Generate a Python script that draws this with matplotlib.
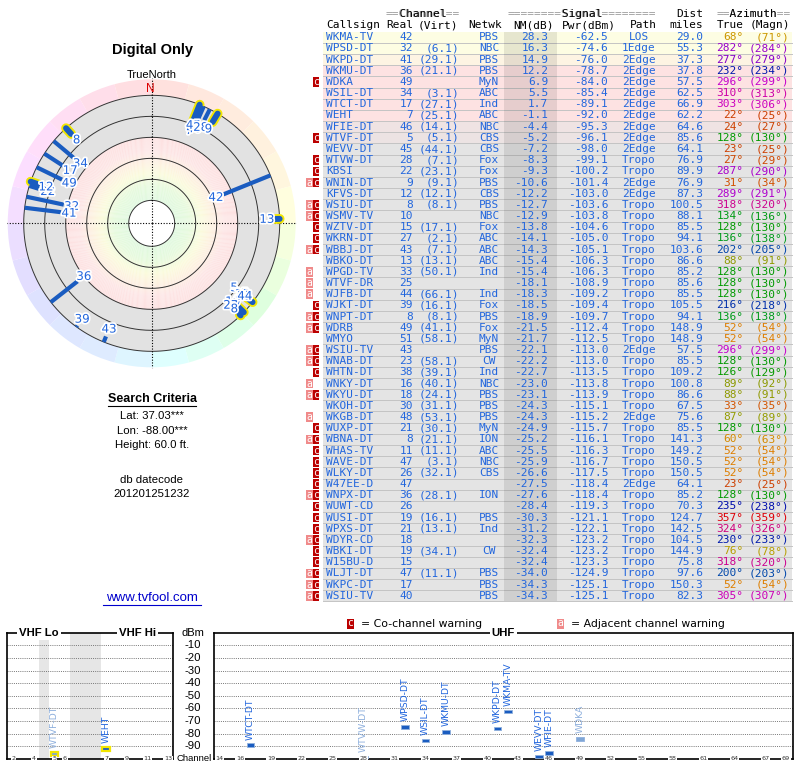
import colorsys
import numpy as np
import matplotlib.pyplot as plt
import matplotlib.patheffects as pe
import matplotlib.transforms as mtrans
from matplotlib.patches import Rectangle

# ---- station data ----
callsigns = ['WKMA-TV', 'WPSD-DT', 'WKPD-DT', 'WKMU-DT', 'WDKA', 'WSIL-DT', 'WTCT-DT', 'WEHT',
             'WFIE-DT', 'WTVF-DT', 'WEVV-DT', 'WTVW-DT', 'KBSI', 'WNIN-DT', 'KFVS-DT', 'WSIU-DT',
             'WSMV-TV', 'WZTV-DT', 'WKRN-DT', 'WBBJ-DT', 'WBKO-DT', 'WPGD-TV', 'WTVF-DR', 'WJFB-DT',
             'WJKT-DT', 'WNPT-DT', 'WDRB', 'WMYO', 'WSIU-TV', 'WNAB-DT', 'WHTN-DT', 'WNKY-DT',
             'WKYU-DT', 'WKOH-DT', 'WKGB-DT', 'WUXP-DT', 'WBNA-DT', 'WHAS-TV', 'WAVE-DT', 'WLKY-DT',
             'W47EE-D', 'WNPX-DT', 'WUWT-CD', 'WUSI-DT', 'WPXS-DT', 'WDYR-CD', 'WBKI-DT', 'W15BU-D',
             'WLJT-DT', 'WKPC-DT', 'WSIU-TV']
real_ch = [42, 32, 41, 36, 49, 34, 17, 7, 46, 5, 45, 28, 22, 9, 12, 8, 10, 15, 27, 43, 13, 33, 25, 44,
           39, 8, 49, 51, 43, 23, 38, 16, 18, 30, 48, 21, 8, 11, 47, 26, 47, 36, 26, 19, 21, 18, 19, 15,
           47, 17, 40]
virt_ch = ['', '6.1', '29.1', '21.1', '', '3.1', '27.1', '25.1', '14.1', '5.1', '44.1', '7.1', '23.1',
           '9.1', '12.1', '8.1', '', '17.1', '2.1', '7.1', '13.1', '50.1', '', '66.1', '16.1', '8.1',
           '41.1', '58.1', '', '58.1', '39.1', '40.1', '24.1', '31.1', '53.1', '30.1', '21.1', '11.1',
           '3.1', '32.1', '', '28.1', '', '16.1', '13.1', '', '34.1', '', '11.1', '', '']
network = ['PBS', 'NBC', 'PBS', 'PBS', 'MyN', 'ABC', 'Ind', 'ABC', 'NBC', 'CBS', 'CBS', 'Fox', 'Fox',
           'PBS', 'CBS', 'PBS', 'NBC', 'Fox', 'ABC', 'ABC', 'ABC', 'Ind', '', 'Ind', 'Fox', 'PBS', 'Fox',
           'MyN', 'PBS', 'CW', 'Ind', 'NBC', 'PBS', 'PBS', 'PBS', 'MyN', 'ION', 'ABC', 'NBC', 'CBS', '',
           'ION', '', 'PBS', 'Ind', '', 'CW', '', 'PBS', 'PBS', 'PBS']
nm_db = [28.3, 16.3, 14.9, 12.2, 6.9, 5.5, 1.7, -1.1, -4.4, -5.2, -7.2, -8.3, -9.3, -10.6, -12.2, -12.7,
         -12.9, -13.8, -14.1, -14.3, -15.4, -15.4, -18.1, -18.3, -18.5, -18.9, -21.5, -21.7, -22.1,
         -22.2, -22.7, -23.0, -23.1, -24.3, -24.3, -24.9, -25.2, -25.5, -25.9, -26.6, -27.5, -27.6,
         -28.4, -30.3, -31.2, -32.3, -32.4, -32.4, -34.0, -34.3, -34.3]
pwr_dbm = [-62.5, -74.6, -76.0, -78.7, -84.0, -85.4, -89.1, -92.0, -95.3, -96.1, -98.0, -99.1, -100.2,
           -101.4, -103.0, -103.6, -103.8, -104.6, -105.0, -105.1, -106.3, -106.3, -108.9, -109.2,
           -109.4, -109.7, -112.4, -112.5, -113.0, -113.0, -113.5, -113.8, -113.9, -115.1, -115.2,
           -115.7, -116.1, -116.3, -116.7, -117.5, -118.4, -118.4, -119.3, -121.1, -122.1, -123.2,
           -123.2, -123.3, -124.9, -125.1, -125.1]
path = ['LOS', '1Edge', '2Edge', '2Edge', '2Edge', '2Edge', '2Edge', '2Edge', '2Edge', '2Edge', '2Edge',
        'Tropo', 'Tropo', '2Edge', '2Edge', 'Tropo', 'Tropo', 'Tropo', 'Tropo', 'Tropo', 'Tropo', 'Tropo',
        'Tropo', 'Tropo', 'Tropo', 'Tropo', 'Tropo', 'Tropo', '2Edge', 'Tropo', 'Tropo', 'Tropo', 'Tropo',
        'Tropo', '2Edge', 'Tropo', 'Tropo', 'Tropo', 'Tropo', 'Tropo', '2Edge', 'Tropo', 'Tropo', 'Tropo',
        'Tropo', 'Tropo', 'Tropo', 'Tropo', 'Tropo', 'Tropo', 'Tropo']
dist_mi = [29.0, 55.3, 37.3, 37.8, 57.5, 62.5, 66.9, 62.2, 64.6, 85.6, 64.1, 76.9, 89.9, 76.9, 87.3,
           100.5, 88.1, 85.5, 94.1, 103.6, 86.6, 85.2, 85.6, 85.5, 105.5, 94.1, 148.9, 148.9, 57.5, 85.5,
           109.2, 100.8, 86.6, 67.5, 75.6, 85.5, 141.3, 149.2, 150.5, 150.5, 64.1, 85.2, 70.3, 124.7,
           142.5, 104.5, 144.9, 75.8, 97.6, 150.3, 82.3]
az_true = [68, 282, 277, 232, 296, 310, 303, 22, 24, 128, 23, 27, 287, 31, 289, 318, 134, 128, 136, 202,
           88, 128, 128, 128, 216, 136, 52, 52, 296, 128, 126, 89, 88, 33, 87, 128, 60, 52, 52, 52, 23,
           128, 235, 357, 324, 230, 76, 318, 200, 52, 305]
az_magn = [71, 284, 279, 234, 299, 313, 306, 25, 27, 130, 25, 29, 290, 34, 291, 320, 136, 130, 138, 205,
           91, 130, 130, 130, 218, 138, 54, 54, 299, 130, 129, 92, 91, 35, 89, 130, 63, 54, 54, 54, 25,
           130, 238, 359, 326, 233, 78, 320, 203, 54, 307]
warnings = ['', '', '', '', 'c', '', '', '', '', 'c', '', 'c', 'c', 'ac', '', 'ac', 'ac', 'c', 'c', 'ac',
            '', 'a', 'a', 'a', 'c', 'ac', 'ac', '', 'ac', 'ac', 'c', 'a', 'ac', '', 'a', 'c', 'ac', 'c',
            'c', 'c', 'c', 'ac', 'c', 'c', 'c', 'ac', 'c', 'c', 'ac', 'ac', 'ac']

dbm_levels = [-10, -20, -30, -40, -50, -60, -70, -80, -90]
vhf_ticks = [2, 4, 5, 6, 7, 9, 11, 13]
uhf_ticks = [14, 16, 19, 22, 25, 28, 31, 34, 37, 40, 43, 46, 49, 52, 55, 58, 61, 64, 67, 69]

BLUE_TXT = '#2266dd'
BLUE_BAR = '#1a5cc0'
MONO = 'DejaVu Sans Mono'
ARIAL = 'Liberation Sans'


def az_color(az, sat=1.0, light=False):
    hue = np.interp(az, [0, 22, 52, 68, 88, 128, 200, 232, 282, 318, 357, 360],
                    [0, 18, 34, 44, 64, 120, 215, 232, 285, 318, 358, 360])
    val = np.interp(az, [0, 22, 52, 68, 88, 128, 200, 232, 282, 318, 357, 360],
                    [.85, .8, .87, .8, .6, .6, .67, .67, .8, .8, .87, .87])
    if light:
        return colorsys.hsv_to_rgb(hue / 360.0, sat, 1.0)
    return colorsys.hsv_to_rgb(hue / 360.0, sat, val)


def row_color(nm):
    keys = [-7.0, -1.1, 12.2, 16.3]
    cols = np.array([[0xe4, 0xe4, 0xe4], [0xfd, 0xe2, 0xe2], [0xfd, 0xe2, 0xe2], [0xfd, 0xfd, 0xe3]]) / 255
    return tuple(np.interp(nm, keys, cols[:, k]) for k in range(3))


fig = plt.figure(figsize=(8, 7.68), dpi=100)

# ---- polar "radar" plot ----
R_OUT, PX_DB, NM_MIN = 128.0, 1.05, -20.0
pax = fig.add_axes([0.00838, 0.5204, 0.3625, 0.3776], projection='polar')
pax.set_theta_zero_location('N')
pax.set_theta_direction(-1)
pax.set_ylim(0, 145)
pax.set_axis_off()

seg = np.arange(24) * 15 + 7.5
pax.bar(np.radians(seg), 16, width=np.radians(15), bottom=R_OUT,
        color=[az_color(a, 0.13, light=True) for a in seg], edgecolor='none')
pax.bar(0, R_OUT - 86, width=2 * np.pi, bottom=86, color='#e2e2e2', edgecolor='none')
ring_r = np.linspace(23, 86, 64)
ring_keys = [23, 38, 50, 60, 72, 86]
ring_cols = np.array([[0xdf, 0xf9, 0xdf], [0xe6, 0xfa, 0xdc], [0xfb, 0xfb, 0xdc],
                      [0xfd, 0xf2, 0xdf], [0xfd, 0xe5, 0xe5], [0xfd, 0xe0, 0xe0]]) / 255
for r0, r1 in zip(ring_r[:-1], ring_r[1:]):
    rc = tuple(np.interp((r0 + r1) / 2, ring_keys, ring_cols[:, k]) for k in range(3))
    pax.bar(0, r1 - r0, width=2 * np.pi, bottom=r0, color=rc, edgecolor='none')
th = np.linspace(0, 2 * np.pi, 361)
for rr in [23, 44, 65, 86, 107, 128]:
    pax.plot(th, np.full_like(th, rr), color='#333333', lw=0.7)
for t in [0, np.pi / 2, np.pi, 3 * np.pi / 2]:
    pax.plot([t, t], [0, 145], color='black', lw=0.8, ls=(0, (1, 1.5)))
pax.bar(0, 23, width=2 * np.pi, bottom=0, color='white', edgecolor='none')

halo = [pe.withStroke(linewidth=2.5, foreground='white')]
for i in range(len(callsigns)):
    if nm_db[i] <= NM_MIN:
        continue
    t = np.radians(az_true[i])
    r_in = R_OUT - (nm_db[i] - NM_MIN) * PX_DB
    if real_ch[i] <= 13:
        pax.plot([t, t], [R_OUT, r_in], color='#f2e600', lw=7, solid_capstyle='round', zorder=4)
        pax.plot([t, t], [R_OUT, r_in], color=BLUE_BAR, lw=4.3, solid_capstyle='round', zorder=5)
    else:
        pax.plot([t, t], [R_OUT, r_in], color=BLUE_BAR, lw=3, solid_capstyle='butt', zorder=5)
    pax.text(t, r_in - 8, str(real_ch[i]), ha='center', va='center', fontsize=8.5,
             color=BLUE_TXT, path_effects=halo, zorder=6)

# ---- spectrum panels ----
def vhf_slot(ch):
    ch = np.asarray(ch)
    return np.where(ch <= 4, ch - 2, np.where(ch <= 6, ch - 1, ch + 2))


vhf = fig.add_axes([0.00838, 0.01172, 0.2083, 0.16445])
vhf.set_xlim(-0.64, 15.52)
uhf = fig.add_axes([0.2675, 0.01172, 0.7234, 0.16445])
uhf.set_xlim(13.47, 69.65)
for ax in (vhf, uhf):
    ax.set_ylim(-100, 0)
    ax.set_xticks([])
    ax.set_yticks([])
    for s in ax.spines.values():
        s.set_linewidth(1.2)
        s.set_color('black')
    for lv in dbm_levels:
        ax.axhline(lv, color='#777777', lw=0.7, ls=(0, (1, 1.2)), zorder=1)
vhf.axvspan(2.5, 3.5, color='#e6e6e6', zorder=0, lw=0)
vhf.axvspan(5.5, 8.5, color='#e6e6e6', zorder=0, lw=0)

for i in range(len(callsigns)):
    if pwr_dbm[i] <= -100:
        continue
    ch = real_ch[i]
    faded = 'c' in warnings[i]
    fc = '#7fa6d6' if faded else BLUE_BAR
    tc = '#8fb0dd' if faded else BLUE_TXT
    if ch <= 13:
        ax, x, ec, lw = vhf, float(vhf_slot(ch)), '#f2e600', 1.6
    else:
        ax, x, ec, lw = uhf, float(ch), '#8fb0dd', 0.6
    ax.bar(x, 2.8, bottom=pwr_dbm[i] - 1.4, width=0.75, color=fc, edgecolor=ec, lw=lw, zorder=4)
    ax.text(x, pwr_dbm[i] + 4.5, callsigns[i], rotation=90, ha='center', va='bottom',
            fontsize=6.7, color=tc, zorder=5)

tick_box = dict(facecolor='white', edgecolor='none', pad=0.4)
for ch in vhf_ticks:
    vhf.text(float(vhf_slot(ch)), -100, str(ch), ha='center', va='center', fontsize=4.6,
             color='#333333', bbox=tick_box, zorder=10, clip_on=False)
for ch in uhf_ticks:
    uhf.text(ch, -100, str(ch), ha='center', va='center', fontsize=4.6,
             color='#333333', bbox=tick_box, zorder=10, clip_on=False)

title_box = dict(facecolor='white', edgecolor='none', pad=1.5)
for ax, xf, lab in [(vhf, 0.194, 'VHF Lo'), (vhf, 0.785, 'VHF Hi'), (uhf, 0.5, 'UHF')]:
    ax.text(xf, 1.0, lab, transform=ax.transAxes, ha='center', va='center', fontsize=8.2,
            fontweight='bold', family=ARIAL, bbox=title_box, zorder=10, clip_on=False)

mix = mtrans.blended_transform_factory(vhf.transAxes, vhf.transData)
vhf.text(1.118, 0, 'dBm', transform=mix, ha='center', va='center', fontsize=8, family=ARIAL,
         clip_on=False)
for lv in dbm_levels:
    vhf.text(1.118, lv, str(lv), transform=mix, ha='center', va='center', fontsize=8.2,
             family=ARIAL, clip_on=False)
vhf.text(1.127, -100, 'Channel', transform=mix, ha='center', va='center', fontsize=6.8,
         family=ARIAL, clip_on=False)

# ---- overlay for table and texts (pixel coordinates) ----
ov = fig.add_axes([0, 0, 1, 1], zorder=10)
ov.set_xlim(0, 800)
ov.set_ylim(768, 0)
ov.axis('off')

ov.text(152, 50, 'Digital Only', ha='center', va='center', fontsize=10.5, fontweight='bold',
        family=ARIAL)
ov.text(152, 74.5, 'TrueNorth', ha='center', va='center', fontsize=8, family=ARIAL)
ov.text(150.5, 89.5, 'N', ha='center', va='center', fontsize=8.5, family=ARIAL, color='#dd0000')

ov.text(152, 399, 'Search Criteria', ha='center', va='center', fontsize=9, fontweight='bold',
        family=ARIAL)
ov.plot([108, 196], [405.5, 405.5], color='black', lw=0.8)
for y, s in [(416, 'Lat: 37.03***'), (431, 'Lon: -88.00***'), (445, 'Height: 60.0 ft.'),
             (480, 'db datecode'), (494, '201201251232')]:
    ov.text(152, y, s, ha='center', va='center', fontsize=8.2, family=ARIAL)
ov.text(152, 598, 'www.tvfool.com', ha='center', va='center', fontsize=9.5, family=ARIAL,
        color='#0000cc')
ov.plot([103, 201], [604.5, 604.5], color='#0000cc', lw=0.8)

# table header
hdr = dict(fontsize=8, family=MONO, va='center')
for x, s, word in [(386, '==Channel==', '  Channel  '),
                   (508, '========Signal========', '        Signal        '),
                   (716.5, '==Azimuth==', '  Azimuth  ')]:
    ov.text(x, 14, s, color='#999999', ha='left', **hdr)
    ov.text(x, 14, word, color='black', ha='left', **hdr)
ov.text(703.3, 14, 'Dist', color='black', ha='right', **hdr)
for x, s in [(326, 'Callsign'), (386.5, 'Real'), (418, '(Virt)'), (468, 'Netwk'),
             (513, 'NM(dB)'), (561.5, 'Pwr(dBm)'), (629.5, 'Path'), (669.5, 'miles'),
             (716.5, 'True'), (749.5, '(Magn)')]:
    ov.text(x, 25, s, color='black', ha='left', **hdr)

ROW0, ROWH = 37.3, 11.17
n = len(callsigns)
for i in range(n):
    yc = ROW0 + i * ROWH
    ov.add_patch(Rectangle((323, yc - ROWH / 2), 469, ROWH, facecolor=row_color(nm_db[i]),
                           edgecolor='none', zorder=1))
    ov.plot([323, 792], [yc + ROWH / 2, yc + ROWH / 2], color='#c4c4c4', lw=0.7, zorder=2)
    if 'a' in warnings[i]:
        ov.add_patch(Rectangle((306, yc - 4.8), 6.6, 9.6, facecolor='#f08a8a', edgecolor='none'))
        ov.text(309.3, yc, 'a', ha='center', va='center', fontsize=7, family=MONO, color='white')
    if 'c' in warnings[i]:
        ov.add_patch(Rectangle((312.7, yc - 4.8), 6.6, 9.6, facecolor='#bb0000', edgecolor='none'))
        ov.text(316, yc, 'c', ha='center', va='center', fontsize=7, family=MONO, color='white')
ov.add_patch(Rectangle((504, ROW0 - ROWH / 2), 53, n * ROWH, facecolor='black', alpha=0.09,
                       edgecolor='none', zorder=3))

cell = dict(fontsize=8, family=MONO, va='center', zorder=4)
for i in range(n):
    yc = ROW0 + i * ROWH
    ov.text(326, yc, callsigns[i], ha='left', color=BLUE_TXT, **cell)
    ov.text(413, yc, str(real_ch[i]), ha='right', color=BLUE_TXT, **cell)
    if virt_ch[i]:
        ov.text(459, yc, '(%s)' % virt_ch[i], ha='right', color=BLUE_TXT, **cell)
    ov.text(489, yc, network[i], ha='center', color=BLUE_TXT, **cell)
    ov.text(548.3, yc, '%.1f' % nm_db[i], ha='right', color=BLUE_TXT, **cell)
    ov.text(608.3, yc, '%.1f' % pwr_dbm[i], ha='right', color=BLUE_TXT, **cell)
    ov.text(639, yc, path[i], ha='center', color=BLUE_TXT, **cell)
    ov.text(703.3, yc, '%.1f' % dist_mi[i], ha='right', color=BLUE_TXT, **cell)
    ov.text(743.3, yc, '%d\u00b0' % az_true[i], ha='right', color=az_color(az_true[i]), **cell)
    ov.text(789.3, yc, '(%d\u00b0)' % az_magn[i], ha='right', color=az_color(az_true[i]), **cell)

# warning legend
ov.add_patch(Rectangle((346.7, 618.5), 7, 10, facecolor='#bb0000', edgecolor='none'))
ov.text(350.2, 623.5, 'c', ha='center', va='center', fontsize=7, family=MONO, color='white')
ov.text(361, 624, '= Co-channel warning', ha='left', va='center', fontsize=7.8)
ov.add_patch(Rectangle((557.3, 618.5), 7, 10, facecolor='#f08a8a', edgecolor='none'))
ov.text(560.8, 623.5, 'a', ha='center', va='center', fontsize=7, family=MONO, color='white')
ov.text(571, 624, '= Adjacent channel warning', ha='left', va='center', fontsize=7.8)

fig.savefig('out.png', dpi=100)
